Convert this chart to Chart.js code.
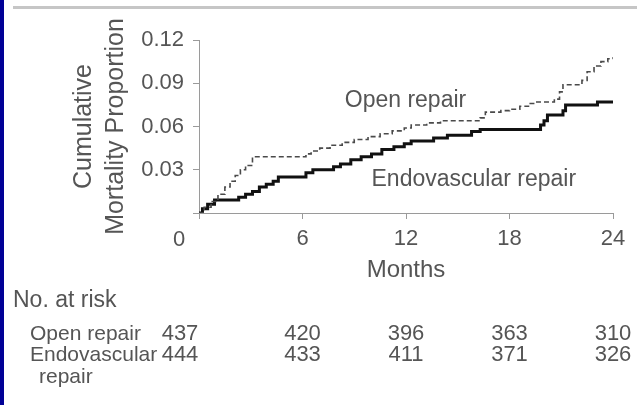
<!DOCTYPE html>
<html>
<head>
<meta charset="utf-8">
<title>Cumulative mortality</title>
<script src="https://cdn.jsdelivr.net/npm/chart.js@4/dist/chart.umd.min.js"></script>
<style>
  html, body { margin: 0; padding: 0; background: #fff; }
  #frame { position: relative; width: 637px; height: 405px; overflow: hidden; background: #fff; }
  #edge { position: absolute; left: 0; top: 0; width: 4px; height: 405px; background: #000096; }
  #rule { position: absolute; left: 13px; right: 0; top: 6px; height: 3px; background: #c6c6c6; }
  canvas { position: absolute; left: 0; top: 0; }
</style>
</head>
<body>
<div id="frame">
  <canvas id="chart" width="637" height="405"></canvas>
  <div id="edge"></div>
  <div id="rule"></div>
</div>
<script>
// Axis ticks
const monthTicks = [0, 6, 12, 18, 24];
const proportionTicks = [0, 0.03, 0.06, 0.09, 0.12];

// Kaplan-Meier style cumulative mortality, open repair (dashed)
const openMonths = [0, 0.3, 0.7, 1.1, 1.5, 1.8, 2.1, 2.4, 2.7, 3.1, 6.2, 6.5, 7.0, 7.6, 8.3, 9.0, 9.8, 10.5, 11.2, 11.9, 12.3, 13.2, 14.0, 16.3, 16.6, 17.5, 18.0, 18.6, 19.1, 19.5, 20.6, 20.9, 21.1, 22.2, 22.5, 22.9, 23.3, 23.7, 24];
const openMortality = [0, 0.004, 0.008, 0.013, 0.018, 0.022, 0.026, 0.030, 0.033, 0.039, 0.041, 0.043, 0.045, 0.047, 0.049, 0.051, 0.053, 0.055, 0.057, 0.059, 0.061, 0.0625, 0.064, 0.066, 0.070, 0.071, 0.072, 0.074, 0.076, 0.077, 0.079, 0.084, 0.089, 0.092, 0.098, 0.102, 0.105, 0.107, 0.108];

// Endovascular repair (solid)
const endoMonths = [0, 0.2, 0.5, 0.9, 2.3, 2.7, 3.1, 3.5, 3.9, 4.3, 4.6, 6.2, 6.6, 7.8, 8.2, 8.8, 9.4, 10.0, 10.6, 11.3, 11.9, 12.3, 13.6, 14.4, 15.8, 16.3, 19.8, 20.0, 20.2, 21.1, 21.25, 23.1, 24];
const endoMortality = [0, 0.003, 0.006, 0.009, 0.011, 0.013, 0.015, 0.018, 0.020, 0.022, 0.025, 0.028, 0.030, 0.032, 0.034, 0.037, 0.039, 0.041, 0.044, 0.046, 0.048, 0.050, 0.052, 0.054, 0.0565, 0.058, 0.061, 0.064, 0.068, 0.071, 0.075, 0.077, 0.077];

// Numbers at risk at each tick month
const riskTitle = 'No. at risk';
const openRiskLabel = ['Open repair'];
const endoRiskLabel = ['Endovascular', 'repair'];
const openAtRisk = [437, 420, 396, 363, 310];
const endoAtRisk = [444, 433, 411, 371, 326];

const seriesNames = ['Open repair', 'Endovascular repair'];

const FONT = '"Liberation Sans", Arial, Helvetica, sans-serif';
const TEXT = '#555';
const AXIS = '#9a9a9a';

const toPoints = (xs, ys) => xs.map((x, i) => ({ x: x, y: ys[i] }));

// Draws the origin label, the curve names and the at-risk table
const annotations = {
  id: 'annotations',
  afterDraw(chart) {
    const { ctx, scales: { x, y } } = chart;
    ctx.save();
    ctx.fillStyle = TEXT;
    ctx.textBaseline = 'middle';

    // origin tick label sits left of the corner
    const originX = x.getPixelForValue(0) - 20;
    ctx.font = '22px ' + FONT;
    ctx.textAlign = 'center';
    ctx.fillText('0', originX, 240);

    // curve names
    ctx.font = '23px ' + FONT;
    ctx.textAlign = 'left';
    ctx.fillText(seriesNames[0], x.getPixelForValue(8.45), y.getPixelForValue(0.078));
    ctx.fillText(seriesNames[1], x.getPixelForValue(10.0), y.getPixelForValue(0.023));

    // at-risk table
    ctx.fillText(riskTitle, 13, 301);
    ctx.font = '21px ' + FONT;
    ctx.fillText(openRiskLabel[0], 30, 334);
    ctx.fillText(endoRiskLabel[0], 30, 355);
    ctx.fillText(endoRiskLabel[1], 39, 377);
    ctx.font = '22px ' + FONT;
    ctx.textAlign = 'center';
    monthTicks.forEach((m, i) => {
      const cx = m === 0 ? originX + 1 : x.getPixelForValue(m);
      ctx.fillText(String(openAtRisk[i]), cx, 334);
      ctx.fillText(String(endoAtRisk[i]), cx, 355);
    });
    ctx.restore();
  }
};

new Chart(document.getElementById('chart'), {
  type: 'line',
  data: {
    datasets: [
      {
        label: seriesNames[0],
        data: toPoints(openMonths, openMortality),
        borderColor: '#4a4a4a',
        borderWidth: 1.6,
        borderDash: [5, 3],
        stepped: 'before',
        pointRadius: 0,
        fill: false
      },
      {
        label: seriesNames[1],
        data: toPoints(endoMonths, endoMortality),
        borderColor: '#111',
        borderWidth: 3,
        stepped: 'before',
        pointRadius: 0,
        fill: false
      }
    ]
  },
  options: {
    responsive: false,
    animation: false,
    devicePixelRatio: 1,
    layout: { padding: { left: 0, top: 40, right: 24, bottom: 0 } },
    plugins: { legend: { display: false }, tooltip: { enabled: false } },
    scales: {
      x: {
        type: 'linear',
        min: 0,
        max: 24,
        afterBuildTicks: s => { s.ticks = monthTicks.map(v => ({ value: v })); },
        afterFit: s => { s.height = 192; },
        border: { color: AXIS, width: 1 },
        grid: { drawOnChartArea: false, drawTicks: true, tickLength: 6, color: AXIS },
        ticks: {
          color: TEXT,
          font: { family: FONT, size: 22 },
          padding: 7,
          maxRotation: 0,
          callback: v => (v === 0 ? '' : String(v))
        },
        title: {
          display: true,
          text: 'Months',
          color: TEXT,
          font: { family: FONT, size: 24, lineHeight: 1.2 },
          padding: { top: 0, bottom: 120 }
        }
      },
      y: {
        type: 'linear',
        min: 0,
        max: 0.12,
        afterBuildTicks: s => { s.ticks = proportionTicks.map(v => ({ value: v })); },
        afterFit: s => { s.width = 199; },
        border: { color: AXIS, width: 1 },
        grid: { drawOnChartArea: false, drawTicks: true, tickLength: 6, color: AXIS },
        ticks: {
          color: TEXT,
          font: { family: FONT, size: 22 },
          padding: 9,
          callback: v => (v === 0 ? '' : v.toFixed(2))
        },
        title: {
          display: true,
          text: ['Cumulative', 'Mortality Proportion'],
          align: 'center',
          color: TEXT,
          font: { family: FONT, size: 25, lineHeight: 1.28 },
          padding: { top: 68, bottom: 0 }
        }
      }
    }
  },
  plugins: [annotations]
});
</script>
</body>
</html>
